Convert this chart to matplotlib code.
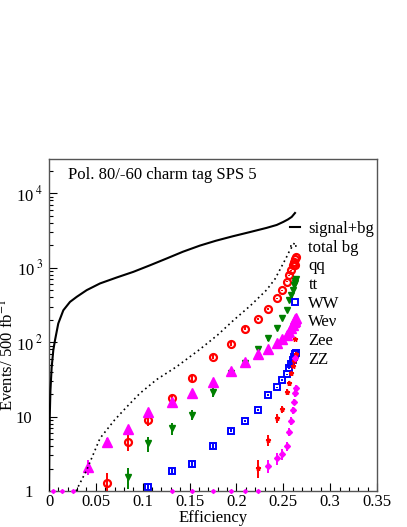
import numpy as np
import matplotlib
matplotlib.use("Agg")
from matplotlib import pyplot as plt
from matplotlib.lines import Line2D
from matplotlib.ticker import FixedLocator, FixedFormatter, MultipleLocator
from matplotlib.transforms import ScaledTranslation

nan = np.nan

# signal efficiency for each cut value
eff = [0.0046, 0.0135, 0.0253, 0.0413, 0.0622, 0.084, 0.106, 0.131, 0.153, 0.1747,
       0.194, 0.209, 0.2235, 0.234, 0.243, 0.249, 0.2536, 0.2566, 0.2587, 0.2603,
       0.2615, 0.2625, 0.2632]

qq = [nan, nan, nan, nan, 1.27, 4.59, 8.97, 17.5, 33.2, 63.5, 94, 152, 207, 282, 386,
      499, 645, 793, 926, 1081, 1196, 1328, 1390]
qq_err = [0, 0, 0, 0, 0.5, 1.1, 1.5, 2.0, 3.0, 4, 5, 6, 7, 8, 9, 10, 12, 13, 14, 15, 16, 17, 18]

tt = [nan, nan, nan, nan, nan, 1.56, 4.37, 6.95, 10.5, 21.5, 38, 52, 82, 112, 157,
      212, 269, 366, 427, 499, 582, 665, 700]
tt_err = [0, 0, 0, 0, 0, 0.5, 1.0, 1.3, 1.6, 3, 4, 5, 6, 7, 8, 9, 10, 11, 12, 13, 14, 15, 16]

ww = [nan, nan, nan, nan, nan, nan, 1.12, 1.87, 2.3, 4.02, 6.45, 8.7, 12.2, 19.4, 24.7,
      30.9, 37.2, 44.4, 50.7, 57.3, 63.5, 69, 72]
ww_err = [0, 0, 0, 0, 0, 0, 0.12, 0.15, 0.17, 0.25, 0.3, 0.35, 0.4, 0.5, 0.55, 0.6,
          0.65, 0.7, 0.75, 0.8, 0.8, 0.85, 0.85]

wev = [nan, nan, nan, 2.12, 4.59, 6.72, 11.4, 15.8, 20.5, 29.3, 41.2, 53.4, 69, 82, 98,
       109, 124, 137, 153, 169, 187, 202, 210]
wev_err = [0, 0, 0, 0.5, 0.6, 0.7, 0.9, 1.0, 1.2, 1.4, 1.6, 1.8, 2, 2.2, 2.4, 2.5, 2.6,
           2.8, 3, 3.1, 3.2, 3.3, 3.4]

zee = [nan, nan, nan, nan, nan, nan, nan, nan, nan, nan, nan, nan, 2.06, 4.84, 9.46,
       12.5, 21.5, 28, 38, 48, 55, 62, 70]
zee_err = [0, 0, 0, 0, 0, 0, 0, 0, 0, 0, 0, 0, 0.55, 0.8, 1.2, 1.5, 2.0, 2.4, 2.8, 3.2,
           3.4, 3.6, 3.8]

zz = [nan, nan, nan, nan, nan, nan, nan, nan, nan, nan, nan, nan, nan, 2.17, 2.75, 3.14,
      4.02, 6.25, 8.79, 12.2, 15.8, 20.5, 23.9]
zz_err = [0, 0, 0, 0, 0, 0, 0, 0, 0, 0, 0, 0, 0, 0.45, 0.5, 0.55, 0.6, 0.8, 1.0, 1.3,
          1.6, 2.0, 2.4]
# cuts where ZZ is empty, drawn on the lower edge
zz_empty = [0.0046, 0.0135, 0.0253, 0.131, 0.153, 0.1747, 0.194, 0.209, 0.2235]

sig_eff = [0, 0.0003, 0.0008, 0.0015, 0.0028, 0.0046, 0.0064, 0.0099, 0.0153, 0.0224,
           0.0296, 0.0402, 0.0544, 0.0722, 0.09, 0.108, 0.1256, 0.143, 0.161, 0.178,
           0.196, 0.214, 0.232, 0.243, 0.250, 0.255, 0.259, 0.2625]
sig_bg = [1, 3, 10, 22, 45, 78, 106, 178, 268, 347, 406, 499, 614, 738, 879, 1080, 1330,
          1640, 1980, 2300, 2640, 3000, 3420, 3750, 4120, 4450, 4810, 5430]

bg_eff = [0.0288, 0.0402, 0.0544, 0.07, 0.083, 0.097, 0.115, 0.136, 0.161, 0.18, 0.197,
          0.215, 0.232, 0.241, 0.248, 0.253, 0.257, 0.2605, 0.2625]
bg_tot = [1, 1.91, 5.1, 9, 13.5, 20.5, 31.5, 46.6, 80, 125, 197, 310, 499, 700, 1025,
          1350, 1717, 2000, 2220]

x_ticks = [0, 0.05, 0.1, 0.15, 0.2, 0.25, 0.3, 0.35]
x_labels = ["0", "0.05", "0.1", "0.15", "0.2", "0.25", "0.3", "0.35"]
y_ticks = [1, 10, 100, 1000, 10000]
y_labels = ["1", "10", r"10$^{\ 2}$", r"10$^{\ 3}$", r"10$^{\ 4}$"]

plt.rcParams["font.family"] = ["Liberation Serif", "DejaVu Serif"]
plt.rcParams["mathtext.fontset"] = "stix"
plt.rcParams["font.size"] = 12

fig = plt.figure(figsize=(4.07, 5.27), dpi=100)
ax = fig.add_axes([49 / 407, 36 / 527, 328 / 407, 332 / 527])

ax.plot(sig_eff, sig_bg, color="black", lw=1.5, zorder=3)
ax.plot(bg_eff, bg_tot, color="black", lw=1.2, ls=(0, (1, 2)), zorder=3)

ebkw = dict(ls="none", elinewidth=1.4, capsize=0)
ax.errorbar(eff, qq, yerr=qq_err, fmt="o", color="red", mfc="none", mec="red",
            mew=1.6, ms=5, **ebkw)
ax.errorbar(eff, tt, yerr=tt_err, fmt="v", color="green", ms=4, **ebkw)
ax.errorbar(eff, ww, yerr=ww_err, fmt="s", color="blue", mfc="none", mec="blue",
            mew=1.4, ms=5, **ebkw)
ax.errorbar(eff, wev, yerr=wev_err, fmt="^", color="magenta", ms=6.5, **ebkw)
ax.errorbar(eff, zee, yerr=zee_err, fmt="*", color="red", ms=3.5, **ebkw)
ax.errorbar(eff, zz, yerr=zz_err, fmt="D", color="magenta", ms=3, **ebkw)
ax.plot(zz_empty, np.ones(len(zz_empty)), "D", color="magenta", ms=2, clip_on=False,
        zorder=4)

ax.set_yscale("log")
ax.set_xlim(0, 0.35)
ax.set_ylim(1, 10 ** 4.46)

ax.xaxis.set_major_locator(FixedLocator(x_ticks))
ax.xaxis.set_major_formatter(FixedFormatter(x_labels))
ax.xaxis.set_minor_locator(MultipleLocator(0.01))
ax.yaxis.set_major_locator(FixedLocator(y_ticks))
ax.yaxis.set_major_formatter(FixedFormatter(y_labels))
ax.tick_params(which="both", direction="in", top=False, right=False, labelsize=12)
ax.tick_params(which="major", length=6, width=0.8)
ax.tick_params(which="minor", length=3, width=0.8)
ax.tick_params(axis="y", pad=4)
ax.tick_params(axis="x", pad=2)
for sp in ax.spines.values():
    sp.set_linewidth(1.0)
    sp.set_color("#555555")

fig.canvas.draw()
for lab in ax.get_yticklabels():
    if lab.get_text() in ("1", "10"):
        lab.set_transform(lab.get_transform() + ScaledTranslation(-11 / 100, 0, fig.dpi_scale_trans))

ax.set_xlabel("Efficiency", fontsize=12)
ax.set_ylabel(r"Events/ 500 fb$^{-1}$", fontsize=12)
ax.yaxis.set_label_coords(-0.095, 0.41)
ax.xaxis.set_label_coords(0.5, -0.058)

ax.text(0.058, 0.952, "Pol. 80/-60 charm tag SPS 5", transform=ax.transAxes,
        fontsize=12, va="center", ha="left")

handles = [
    Line2D([], [], color="black", lw=1.5),
    Line2D([], [], color="black", lw=1.2, ls=(0, (1, 2))),
    Line2D([], [], ls="none", marker="o", mfc="none", mec="red", mew=1.6, ms=5),
    Line2D([], [], ls="none", marker="v", color="green", ms=4),
    Line2D([], [], ls="none", marker="s", mfc="none", mec="blue", mew=1.4, ms=5),
    Line2D([], [], ls="none", marker="^", color="magenta", ms=6.5),
    Line2D([], [], ls="none", marker="*", color="red", ms=3.5),
    Line2D([], [], ls="none", marker="D", color="magenta", ms=3),
]
labels = ["signal+bg", "total bg", "qq", "tt", "WW", "We\u03bd", "Zee", "ZZ"]
ax.legend(handles, labels, loc="upper left", bbox_to_anchor=(0.735, 0.813),
          frameon=False, fontsize=12, handlelength=0.6, handletextpad=0.5,
          borderpad=0, borderaxespad=0, labelspacing=0.16)

fig.savefig("out.png", dpi=100)
